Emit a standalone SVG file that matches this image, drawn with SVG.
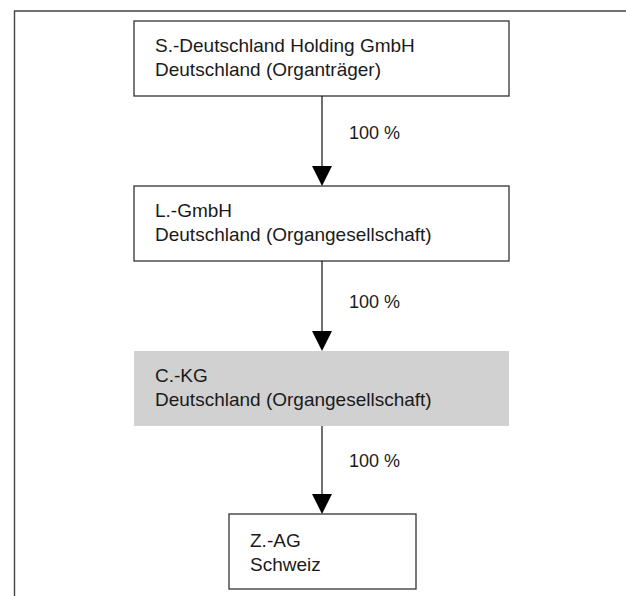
<svg xmlns="http://www.w3.org/2000/svg" width="626" height="596" viewBox="0 0 626 596">
<style>
.box{fill:#ffffff;stroke:#333333;stroke-width:1.3}
.shade{fill:#d1d1d1;stroke:none}
.t{font-family:"Liberation Sans",Arial,sans-serif;font-size:19px;fill:#1a1a1a}
.lbl{font-family:"Liberation Sans",Arial,sans-serif;font-size:18px;fill:#1a1a1a}
.frame{stroke:#444444;stroke-width:1.4;fill:none}
.conn{stroke:#111111;stroke-width:1.2;fill:none}
.head{fill:#000000}
</style>
<rect x="0" y="0" width="626" height="596" fill="#ffffff"/>
<g id="frame">
<path class="frame" d="M14.5,596 V11 H626"/>
</g>
<g id="node-holding">
<rect class="box" x="134" y="21" width="375" height="75"/>
<text class="t" x="155" y="52">S.-Deutschland Holding GmbH</text>
<text class="t" x="155" y="76">Deutschland (Organträger)</text>
</g>
<g id="node-lgmbh">
<rect class="box" x="134" y="186" width="375" height="75"/>
<text class="t" x="155" y="217">L.-GmbH</text>
<text class="t" x="155" y="241">Deutschland (Organgesellschaft)</text>
</g>
<g id="node-ckg">
<rect class="shade" x="134" y="351" width="375" height="75"/>
<text class="t" x="155" y="382">C.-KG</text>
<text class="t" x="155" y="406">Deutschland (Organgesellschaft)</text>
</g>
<g id="node-zag">
<rect class="box" x="229" y="514" width="187" height="75"/>
<text class="t" x="250" y="547">Z.-AG</text>
<text class="t" x="250" y="571">Schweiz</text>
</g>
<g id="connectors">
<line class="conn" x1="322" y1="96" x2="322" y2="167"/>
<polygon class="head" points="312,166 332,166 322,186"/>
<text class="lbl" x="349" y="139">100 %</text>
<line class="conn" x1="322" y1="261" x2="322" y2="332"/>
<polygon class="head" points="312,331 332,331 322,351"/>
<text class="lbl" x="349" y="308">100 %</text>
<line class="conn" x1="322" y1="426" x2="322" y2="495"/>
<polygon class="head" points="312,494 332,494 322,514"/>
<text class="lbl" x="349" y="467">100 %</text>
</g>
</svg>
